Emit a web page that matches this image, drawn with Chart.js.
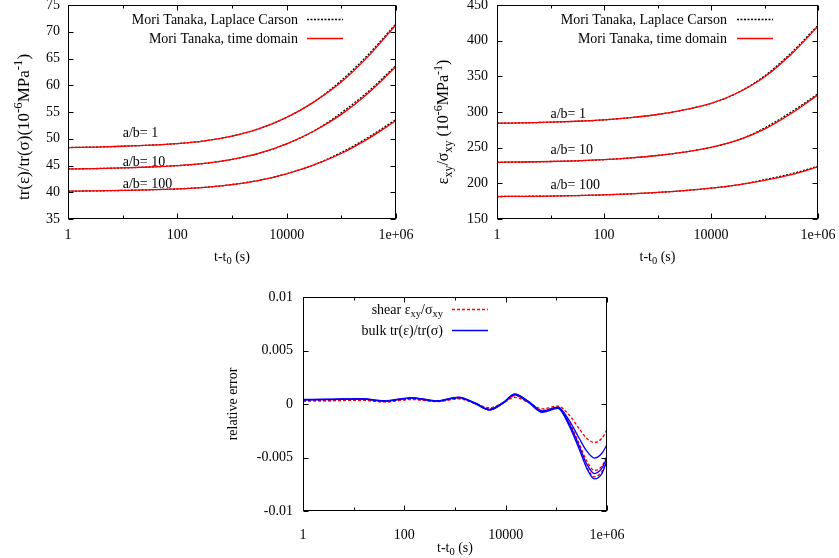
<!DOCTYPE html>
<html>
<head>
<meta charset="utf-8">
<script src="https://cdn.jsdelivr.net/npm/chart.js@4.4.1/dist/chart.umd.min.js"></script>
<style>
  html,body{margin:0;padding:0;background:#fff;}
  body{width:839px;height:558px;position:relative;overflow:hidden;}
  canvas{position:absolute;}
  #c1{left:0;top:0;}
  #c2{left:420px;top:0;}
  #c3{left:200px;top:270px;}
</style>
</head>
<body>
<canvas id="c1" width="420" height="270"></canvas>
<canvas id="c2" width="419" height="270"></canvas>
<canvas id="c3" width="439" height="288"></canvas>
<script>
// --- data -------------------------------------------------------------
const FONT = '"Liberation Serif", "Times New Roman", serif';

// sample times for the two compliance plots (half decades)
const tCompliance = [1, 3.162, 10, 31.62, 100, 316.2, 1000, 3162, 10000, 31623, 100000, 316228, 1000000];

// bulk compliance tr(e)/tr(s), 1e-6 MPa^-1
const bulkTD1   = [48.35, 48.45, 48.6, 48.8, 49.1, 49.6, 50.5, 51.9, 54.0, 56.9, 60.6, 65.5, 71.3];
const bulkTD10  = [44.35, 44.43, 44.55, 44.72, 44.97, 45.38, 46.13, 47.3, 49.05, 51.45, 54.55, 58.6, 63.5];
const bulkTD100 = [40.2, 40.26, 40.34, 40.46, 40.63, 40.92, 41.44, 42.24, 43.45, 45.12, 47.24, 50.06, 53.4];
const bulkLC1   = [48.35, 48.45, 48.6, 48.8, 49.1, 49.6, 50.5, 51.9, 54.0, 56.9, 60.9, 65.8, 71.5];
const bulkLC10  = [44.35, 44.43, 44.55, 44.72, 44.97, 45.38, 46.13, 47.3, 49.05, 51.45, 54.85, 58.9, 63.7];
const bulkLC100 = [40.2, 40.26, 40.34, 40.46, 40.63, 40.92, 41.44, 42.24, 43.45, 45.12, 47.44, 50.3, 53.6];

// shear compliance e_xy/s_xy, 1e-6 MPa^-1
const shearTD1   = [284.2, 284.8, 285.7, 287.0, 289.0, 292.2, 296.5, 303.0, 312.0, 327.0, 349.0, 381.0, 420.0];
const shearTD10  = [229.5, 229.9, 230.6, 231.6, 233.2, 235.6, 239.0, 243.8, 250.5, 260.5, 276.0, 298.0, 324.0];
const shearTD100 = [181.5, 181.8, 182.2, 182.9, 183.9, 185.3, 187.2, 189.8, 193.2, 197.8, 204.0, 212.3, 223.0];
const shearLC1   = [284.2, 284.8, 285.7, 287.0, 289.0, 292.2, 296.5, 303.0, 312.0, 327.0, 350.5, 383.0, 421.5];
const shearLC10  = [229.5, 229.9, 230.6, 231.6, 233.2, 235.6, 239.0, 243.8, 250.5, 260.5, 277.5, 300.0, 325.5];
const shearLC100 = [181.5, 181.8, 182.2, 182.9, 183.9, 185.3, 187.2, 189.8, 193.2, 197.8, 205.0, 213.3, 224.0];

// sample times for the relative error plot
const tError = [1, 3.16, 14.1, 39.8, 141, 447, 1175, 2512, 4786, 8913, 15136, 28184, 52481,
                107152, 177828, 281838, 398107, 562341, 794328, 1000000];
const errBulk1  = [0.00042,0.00045,0.00050,0.00030,0.00060,0.00030,0.00065,0.00010,-0.00050,0.00015,0.00095,0.00025,-0.00065,-0.00030,-0.00150,-0.00320,-0.00440,-0.00505,-0.00460,-0.00380];
const errBulk2  = [0.00040,0.00043,0.00048,0.00028,0.00058,0.00028,0.00062,0.00005,-0.00055,0.00010,0.00090,0.00020,-0.00072,-0.00035,-0.00180,-0.00390,-0.00560,-0.00650,-0.00600,-0.00500];
const errBulk3  = [0.00038,0.00041,0.00046,0.00026,0.00055,0.00026,0.00060,0.00002,-0.00058,0.00008,0.00085,0.00015,-0.00078,-0.00040,-0.00200,-0.00420,-0.00600,-0.00700,-0.00650,-0.00530];
const errShear1 = [0.00028,0.00030,0.00035,0.00020,0.00042,0.00022,0.00048,0.00005,-0.00035,0.00010,0.00062,0.00015,-0.00045,-0.00020,-0.00100,-0.00230,-0.00320,-0.00360,-0.00320,-0.00240];
const errShear2 = [0.00030,0.00032,0.00038,0.00022,0.00046,0.00024,0.00052,0.00005,-0.00045,0.00010,0.00078,0.00020,-0.00060,-0.00030,-0.00170,-0.00370,-0.00530,-0.00620,-0.00580,-0.00480];
const errShear3 = [0.00032,0.00035,0.00040,0.00024,0.00050,0.00025,0.00056,0.00005,-0.00050,0.00010,0.00085,0.00020,-0.00070,-0.00038,-0.00190,-0.00410,-0.00590,-0.00680,-0.00630,-0.00520];

// ticks
const xTicks = [1, 10, 100, 1000, 10000, 100000, 1000000];
const xTickLabels = {1:'1', 100:'100', 10000:'10000', 1000000:'1e+06'};
const bulkTicks  = [35, 40, 45, 50, 55, 60, 65, 70, 75];
const shearTicks = [150, 200, 250, 300, 350, 400, 450];
const errTicks   = [-0.01, -0.005, 0, 0.005, 0.01];

// --- helpers ----------------------------------------------------------
const pts = (ts, vs) => ts.map((t,i)=>({x:t, y:vs[i]}));
function ds(ts, vs, color, dash, order){
  return {data:pts(ts,vs), borderColor:color, borderDash:dash, borderWidth:1.3,
          order:order, fill:false, pointRadius:0, cubicInterpolationMode:'monotone'};
}

// rich text: segs = [[text, mode]] mode 0 normal, 1 superscript, -1 subscript
function segFont(s, size){ return (s[1] ? size*0.75 : size) + 'px ' + FONT; }
function richWidth(ctx, segs, size){
  let w = 0;
  segs.forEach(s=>{ ctx.font = segFont(s,size); w += ctx.measureText(s[0]).width; });
  return w;
}
function drawRich(ctx, segs, x, cy, size, align){
  const w = richWidth(ctx, segs, size);
  let cx = align==='right' ? x-w : (align==='center' ? x-w/2 : x);
  const base = cy + size*0.33;
  ctx.textAlign = 'left'; ctx.textBaseline = 'alphabetic'; ctx.fillStyle = '#000';
  segs.forEach(s=>{
    ctx.font = segFont(s,size);
    const dy = s[1]===1 ? -size*0.4 : (s[1]===-1 ? size*0.25 : 0);
    ctx.fillText(s[0], cx, base+dy);
    cx += ctx.measureText(s[0]).width;
  });
}

// frame with inward ticks, titles, key and labels (gnuplot look)
function deco(cfg){
  return {
    id:'deco',
    afterDatasetsDraw(chart){
      const ctx = chart.ctx, a = chart.chartArea, xs = chart.scales.x, ys = chart.scales.y;
      const l = Math.round(a.left)+0.5, r = Math.round(a.right)-0.5;
      const t = Math.round(a.top)+0.5, b = Math.round(a.bottom)-0.5;
      ctx.save();
      ctx.strokeStyle = '#000'; ctx.lineWidth = 1; ctx.setLineDash([]);
      ctx.strokeRect(l, t, r-l, b-t);
      ctx.beginPath();
      xTicks.forEach(v=>{
        const px = Math.round(xs.getPixelForValue(v))+0.5;
        const len = xTickLabels[v] ? 5 : 3;
        ctx.moveTo(px, b); ctx.lineTo(px, b-len);
        ctx.moveTo(px, t); ctx.lineTo(px, t+len);
      });
      cfg.yTicks.forEach(v=>{
        const py = Math.round(ys.getPixelForValue(v))+0.5;
        ctx.moveTo(l, py); ctx.lineTo(l+5, py);
        ctx.moveTo(r, py); ctx.lineTo(r-5, py);
      });
      ctx.stroke();

      // axis titles
      drawRich(ctx, [['t-t',0],['0',-1],[' (s)',0]], (a.left+a.right)/2, cfg.xTitleY, 14, 'center');
      ctx.save();
      ctx.translate(cfg.yTitleX, cfg.yTitleY);
      ctx.rotate(-Math.PI/2);
      drawRich(ctx, cfg.yTitle, 0, 0, cfg.yTitleSize || 14, 'center');
      ctx.restore();

      // key
      cfg.key.forEach(k=>{
        drawRich(ctx, k.segs, k.x, k.y, 14, 'right');
        ctx.beginPath();
        ctx.strokeStyle = k.color; ctx.lineWidth = 1.3; ctx.setLineDash(k.dash);
        ctx.moveTo(k.x1, k.y+0.5); ctx.lineTo(k.x2, k.y+0.5);
        ctx.stroke();
      });
      ctx.setLineDash([]);

      // curve labels
      (cfg.labels||[]).forEach(lb=>{
        drawRich(ctx, [[lb.text,0]], xs.getPixelForValue(lb.t), ys.getPixelForValue(lb.v), 14, 'left');
      });
      ctx.restore();
    }
  };
}

function makeChart(id, cfg){
  return new Chart(document.getElementById(id), {
    type:'line',
    data:{datasets:cfg.datasets},
    options:{
      responsive:false, animation:false, devicePixelRatio:1,
      layout:{padding:{top:cfg.padTop, right:cfg.padRight, left:0, bottom:0}},
      plugins:{legend:{display:false}, tooltip:{enabled:false}},
      scales:{
        x:{
          type:'logarithmic', min:1, max:1000000,
          afterBuildTicks:s=>{ s.ticks = xTicks.map(v=>({value:v})); },
          afterFit:s=>{ s.height = cfg.xHeight; s.paddingLeft = 0; s.paddingRight = 0; },
          ticks:{autoSkip:false, maxRotation:0, padding:cfg.xPad, color:'#000',
                 font:{family:FONT, size:14}, callback:v=>xTickLabels[v]||''},
          grid:{display:false, drawTicks:false}, border:{display:false}
        },
        y:{
          min:cfg.yMin, max:cfg.yMax,
          afterBuildTicks:s=>{ s.ticks = cfg.yTicks.map(v=>({value:v})); },
          afterFit:s=>{ s.width = cfg.yWidth; s.paddingTop = 0; s.paddingBottom = 0; },
          ticks:{padding:cfg.yPad, color:'#000', font:{family:FONT, size:14},
                 callback:cfg.yFmt || (v=>String(v))},
          grid:{display:false, drawTicks:false}, border:{display:false}
        }
      }
    },
    plugins:[deco(cfg)]
  });
}

const LCdash = [2,1.5];
const keyTop = (x, x1, x2) => [
  {segs:[['Mori Tanaka, Laplace Carson',0]], x:x, y:19, x1:x1, x2:x2, color:'#000', dash:LCdash},
  {segs:[['Mori Tanaka, time domain',0]],   x:x, y:38, x1:x1, x2:x2, color:'#ff0000', dash:[]}
];

// --- bulk (top left) ---
makeChart('c1', {
  datasets:[
    ds(tCompliance, bulkLC1, '#000', LCdash, 1),
    ds(tCompliance, bulkLC10, '#000', LCdash, 1),
    ds(tCompliance, bulkLC100, '#000', LCdash, 1),
    ds(tCompliance, bulkTD1, '#ff0000', [], 0),
    ds(tCompliance, bulkTD10, '#ff0000', [], 0),
    ds(tCompliance, bulkTD100, '#ff0000', [], 0)
  ],
  yMin:35, yMax:75, yTicks:bulkTicks,
  padTop:5, padRight:24, yWidth:68, xHeight:51, xPad:8, yPad:8,
  xTitleY:256, yTitleX:23, yTitleY:127, yTitleSize:17,
  yTitle:[['tr(\u03b5)/tr(\u03c3)(10',0],['-6',1],['MPa',0],['-1',1],[')',0]],
  key:keyTop(298, 307, 343),
  labels:[{text:'a/b= 1', t:10, v:51.1},{text:'a/b= 10', t:10, v:45.8},{text:'a/b= 100', t:10, v:41.7}]
});

// --- shear (top right) ---
makeChart('c2', {
  datasets:[
    ds(tCompliance, shearLC1, '#000', LCdash, 1),
    ds(tCompliance, shearLC10, '#000', LCdash, 1),
    ds(tCompliance, shearLC100, '#000', LCdash, 1),
    ds(tCompliance, shearTD1, '#ff0000', [], 0),
    ds(tCompliance, shearTD10, '#ff0000', [], 0),
    ds(tCompliance, shearTD100, '#ff0000', [], 0)
  ],
  yMin:150, yMax:450, yTicks:shearTicks,
  padTop:5, padRight:21, yWidth:77, xHeight:51, xPad:8, yPad:9,
  xTitleY:256, yTitleX:23, yTitleY:122, yTitleSize:16,
  yTitle:[['\u03b5',0],['xy',-1],['/\u03c3',0],['xy',-1],[' (10',0],['-6',1],['MPa',0],['-1',1],[')',0]],
  key:keyTop(307, 317, 353),
  labels:[{text:'a/b= 1', t:10, v:298.6},{text:'a/b= 10', t:10, v:248.1},{text:'a/b= 100', t:10, v:199}]
});

// --- relative error (bottom) ---
makeChart('c3', {
  datasets:[
    ds(tError, errShear1, '#ff0000', [3,2], 1),
    ds(tError, errShear2, '#ff0000', [3,2], 1),
    ds(tError, errShear3, '#ff0000', [3,2], 1),
    ds(tError, errBulk1, '#0000ff', [], 0),
    ds(tError, errBulk2, '#0000ff', [], 0),
    ds(tError, errBulk3, '#0000ff', [], 0)
  ],
  yMin:-0.01, yMax:0.01, yTicks:errTicks,
  padTop:27, padRight:32, yWidth:103, xHeight:47, xPad:16, yPad:10,
  yFmt:v=>String(+Number(v).toFixed(3)),
  xTitleY:277, yTitleX:32, yTitleY:134,
  yTitle:[['relative error',0]],
  key:[
    {segs:[['shear \u03b5',0],['xy',-1],['/\u03c3',0],['xy',-1]], x:243, y:39, x1:252, x2:288, color:'#ff0000', dash:[3,2]},
    {segs:[['bulk tr(\u03b5)/tr(\u03c3)',0]], x:243, y:60, x1:252, x2:288, color:'#0000ff', dash:[]}
  ]
});
</script>
</body>
</html>
